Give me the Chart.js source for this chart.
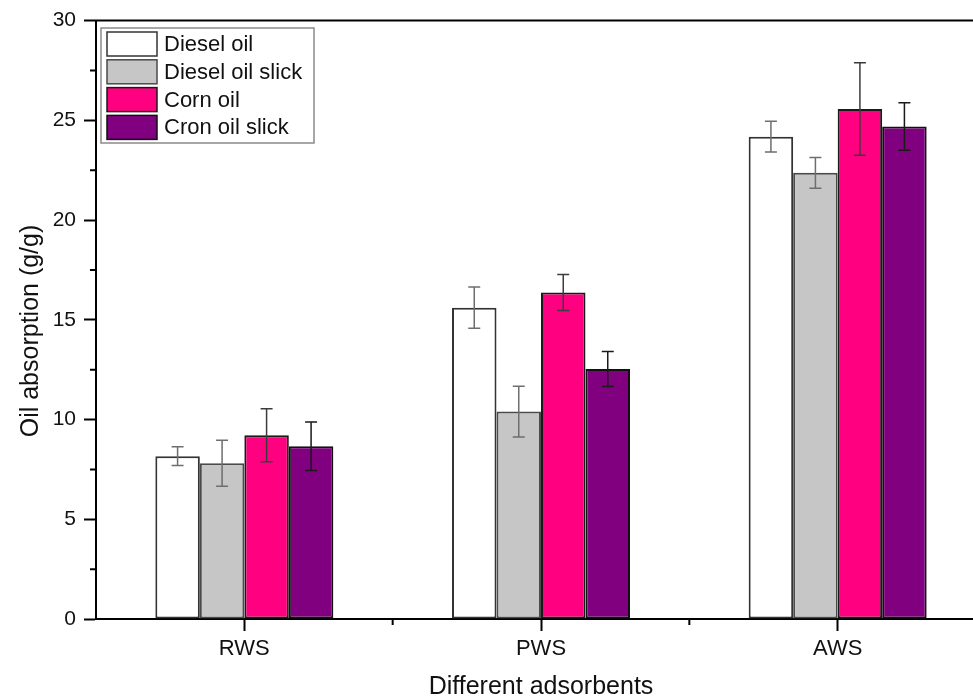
<!DOCTYPE html>
<html>
<head>
<meta charset="utf-8">
<script src="https://cdn.jsdelivr.net/npm/chart.js@4.4.1/dist/chart.umd.min.js"></script>
<style>
    html, body { margin: 0; padding: 0; background: #fff; overflow: hidden; }
    #wrap { width: 1000px; height: 700px; }
</style>
</head>
<body>
<div id="wrap"><canvas id="oilChart" width="1000" height="700"></canvas></div>
<script>
// Values
const categories = ['RWS', 'PWS', 'AWS'];
const seriesLabels = ['Diesel oil', 'Diesel oil slick', 'Corn oil', 'Cron oil slick'];
const dieselOil = [8.16, 15.61, 24.18];
const dieselOilErr = [0.47, 1.03, 0.77];
const dieselSlick = [7.81, 10.40, 22.37];
const dieselSlickErr = [1.15, 1.27, 0.77];
const cornOil = [9.21, 16.37, 25.57];
const cornOilErr = [1.33, 0.90, 2.32];
const cornSlick = [8.66, 12.53, 24.69];
const cornSlickErr = [1.22, 0.88, 1.19];
const yTicks = [0, 5, 10, 15, 20, 25, 30];

const FONT = 'Arial, "Liberation Sans", sans-serif';

document.addEventListener('DOMContentLoaded', () => {
    const ctx = document.getElementById('oilChart').getContext('2d');

    const makeSet = (label, data, err, fill, border, errColor) => ({
        label: label,
        data: data,
        errors: err,
        errColor: errColor,
        backgroundColor: fill,
        borderColor: border,
        borderWidth: 2,
        borderSkipped: false,
        categoryPercentage: 0.6,
        barPercentage: 1.0
    });

    // Error bars, minor ticks, top frame line, y title and legend
    const extras = {
        id: 'extras',
        afterDatasetsDraw(chart) {
            const c = chart.ctx;
            const y = chart.scales.y;
            c.save();
            chart.data.datasets.forEach((ds, i) => {
                const meta = chart.getDatasetMeta(i);
                c.strokeStyle = ds.errColor;
                c.lineWidth = 1.5;
                meta.data.forEach((bar, j) => {
                    const top = y.getPixelForValue(ds.data[j] + ds.errors[j]);
                    const bot = y.getPixelForValue(ds.data[j] - ds.errors[j]);
                    c.beginPath();
                    c.moveTo(bar.x, top); c.lineTo(bar.x, bot);
                    c.moveTo(bar.x - 6, top); c.lineTo(bar.x + 6, top);
                    c.moveTo(bar.x - 6, bot); c.lineTo(bar.x + 6, bot);
                    c.stroke();
                });
            });
            c.restore();
        },
        afterDraw(chart) {
            const c = chart.ctx;
            const area = chart.chartArea;
            const x = chart.scales.x;
            const y = chart.scales.y;
            c.save();
            c.strokeStyle = '#000';
            c.lineWidth = 2;
            c.beginPath();
            c.moveTo(area.left - 1, area.top);
            c.lineTo(area.right + 20, area.top);
            c.stroke();
            c.beginPath();
            for (let v = 2.5; v < 30; v += 5) {
                const py = y.getPixelForValue(v);
                c.moveTo(area.left - 6, py); c.lineTo(area.left, py);
            }
            for (let k = 0; k < categories.length; k++) {
                const px = x.getPixelForValue(k + 0.5);
                c.moveTo(px, area.bottom); c.lineTo(px, area.bottom + 6);
            }
            c.stroke();

            // y axis title, sits a little below the middle in the original
            c.save();
            c.translate(31, 331);
            c.rotate(-Math.PI / 2);
            c.font = '25px ' + FONT;
            c.fillStyle = '#111';
            c.textAlign = 'center';
            c.textBaseline = 'middle';
            c.fillText('Oil absorption (g/g)', 0, 0);
            c.restore();

            // Legend box in the top-left corner
            const lx = 101, ly = 28, w = 213, h = 115;
            c.fillStyle = '#fff';
            c.fillRect(lx, ly, w, h);
            c.strokeStyle = '#8a8a8a';
            c.lineWidth = 1.5;
            c.strokeRect(lx, ly, w, h);
            c.font = '22px ' + FONT;
            c.textBaseline = 'middle';
            chart.data.datasets.forEach((ds, i) => {
                const sy = ly + 4 + i * 27.8;
                c.fillStyle = ds.backgroundColor;
                c.fillRect(lx + 6, sy, 50, 24);
                c.strokeStyle = ds.borderColor;
                c.lineWidth = 1.5;
                c.strokeRect(lx + 6, sy, 50, 24);
                c.fillStyle = '#111';
                c.fillText(ds.label, lx + 63, sy + 13);
            });
            c.restore();
        }
    };

    new Chart(ctx, {
        type: 'bar',
        data: {
            labels: categories,
            datasets: [
                makeSet(seriesLabels[0], dieselOil, dieselOilErr, '#ffffff', '#333333', '#6e6e6e'),
                makeSet(seriesLabels[1], dieselSlick, dieselSlickErr, '#c6c6c6', '#4a4a4a', '#6e6e6e'),
                makeSet(seriesLabels[2], cornOil, cornOilErr, '#ff0080', '#1a1a1a', '#3c3c3c'),
                makeSet(seriesLabels[3], cornSlick, cornSlickErr, '#800080', '#111111', '#1a1a1a')
            ]
        },
        options: {
            responsive: false,
            animation: false,
            devicePixelRatio: 1,
            layout: { padding: { top: 20, right: 14, left: 0, bottom: 0 } },
            plugins: {
                legend: { display: false },
                tooltip: { enabled: false }
            },
            scales: {
                x: {
                    offset: true,
                    grid: {
                        offset: false,
                        drawOnChartArea: false,
                        drawTicks: true,
                        tickLength: 12,
                        tickWidth: 2,
                        tickColor: '#000'
                    },
                    border: { display: true, color: '#000', width: 2 },
                    ticks: { color: '#111', padding: 5, font: { family: FONT, size: 22 } },
                    title: {
                        display: true,
                        text: 'Different adsorbents',
                        color: '#111',
                        font: { family: FONT, size: 25, lineHeight: 1 },
                        padding: { top: 0, bottom: 0 }
                    },
                    afterFit(scale) { scale.height = 81; }
                },
                y: {
                    min: 0,
                    max: 30,
                    afterBuildTicks(scale) { scale.ticks = yTicks.map(v => ({ value: v })); },
                    grid: {
                        drawOnChartArea: false,
                        drawTicks: true,
                        tickLength: 12,
                        tickWidth: 2,
                        tickColor: '#000'
                    },
                    border: { display: true, color: '#000', width: 2 },
                    ticks: { color: '#111', padding: 8, font: { family: FONT, size: 21 } },
                    afterFit(scale) { scale.width = 96; }
                }
            }
        },
        plugins: [extras]
    });
});
</script>
</body>
</html>
